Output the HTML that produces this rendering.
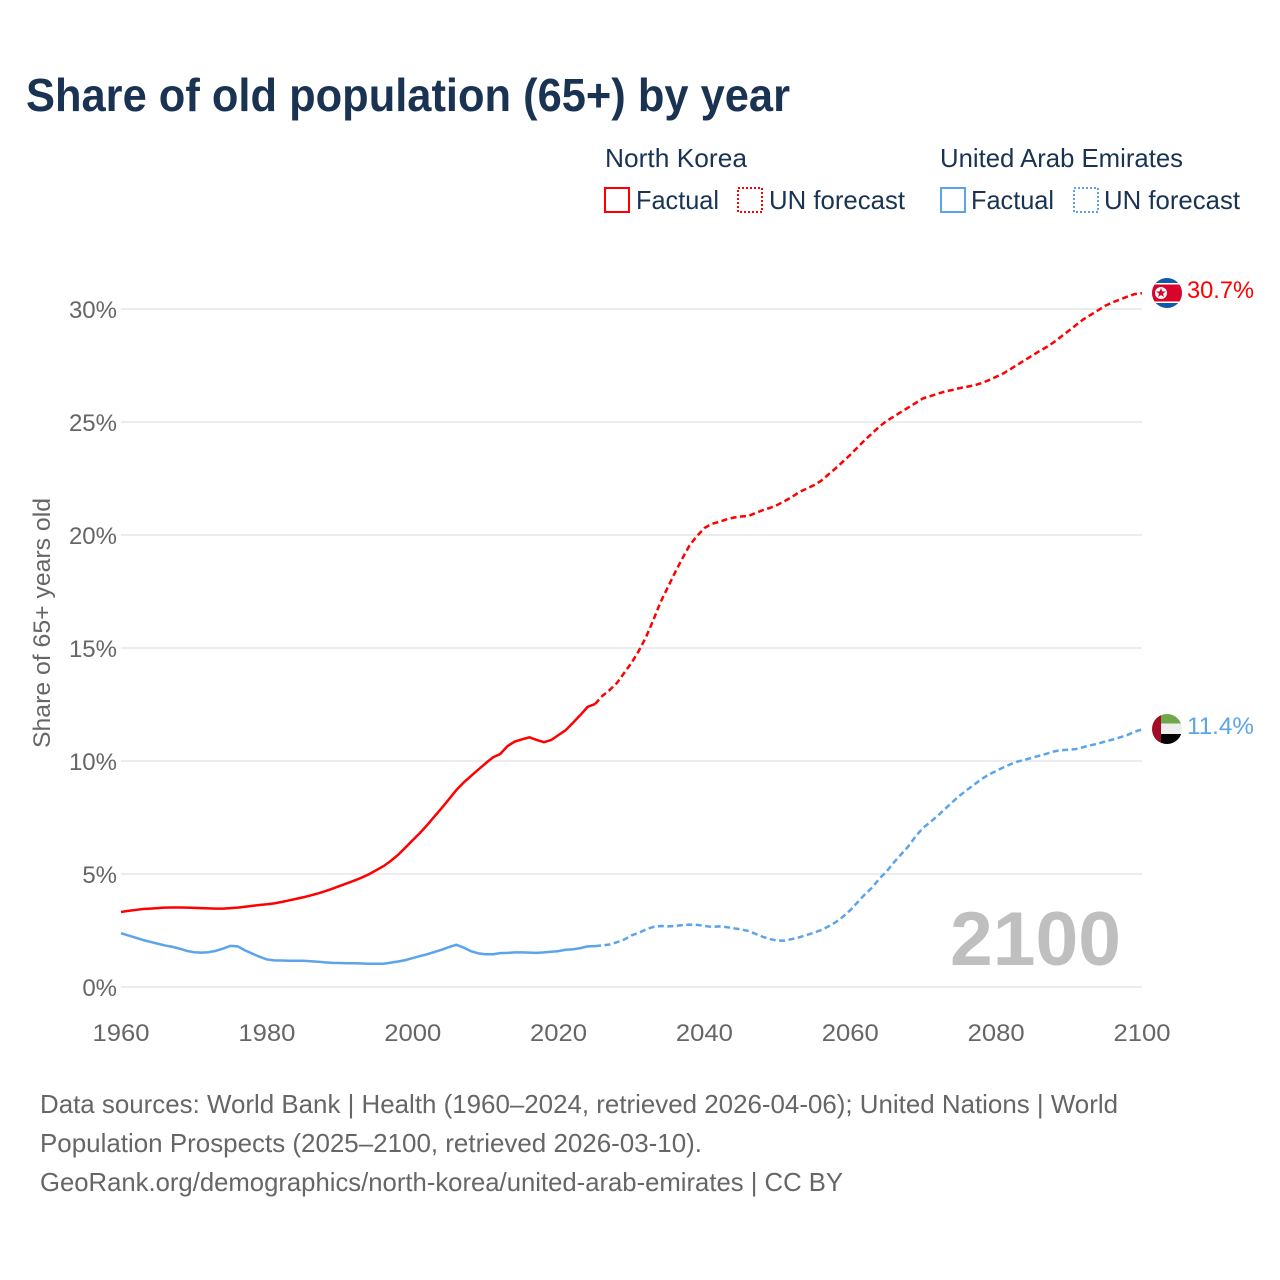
<!DOCTYPE html>
<html lang="en">
<head>
<meta charset="utf-8">
<title>Share of old population (65+) by year</title>
<style>
html,body{margin:0;padding:0;background:#fff;}
svg{display:block;font-family:"Liberation Sans",sans-serif;}
</style>
</head>
<body>
<svg id="chart" width="1280" height="1280" viewBox="0 0 1280 1280" xmlns="http://www.w3.org/2000/svg">
  <defs>
    <clipPath id="clip-nk"><circle cx="1167" cy="293" r="15"/></clipPath>
    <clipPath id="clip-ae"><circle cx="1167" cy="729" r="15"/></clipPath>
  </defs>
  <text x="26" y="111" font-size="46" font-weight="700" fill="#1a3353" textLength="764" lengthAdjust="spacingAndGlyphs">Share of old population (65+) by year</text>

  <g font-size="26" fill="#1a3353">
    <text x="605" y="167" textLength="142" lengthAdjust="spacingAndGlyphs">North Korea</text>
    <text x="940" y="167" textLength="243" lengthAdjust="spacingAndGlyphs">United Arab Emirates</text>
    <rect x="605" y="188" width="24" height="24" fill="none" stroke="#ff0000" stroke-width="2"/>
    <text x="636" y="209" textLength="83" lengthAdjust="spacingAndGlyphs">Factual</text>
    <rect x="738" y="188" width="24" height="24" fill="none" stroke="#ff0000" stroke-width="2" stroke-dasharray="2 2"/>
    <text x="769" y="209" textLength="136" lengthAdjust="spacingAndGlyphs">UN forecast</text>
    <rect x="941" y="188" width="24" height="24" fill="none" stroke="#5ba4ec" stroke-width="2"/>
    <text x="971" y="209" textLength="83" lengthAdjust="spacingAndGlyphs">Factual</text>
    <rect x="1074" y="188" width="24" height="24" fill="none" stroke="#5ba4ec" stroke-width="2" stroke-dasharray="2 2"/>
    <text x="1104" y="209" textLength="136" lengthAdjust="spacingAndGlyphs">UN forecast</text>
  </g>

  <g id="grid"></g>
  <g id="yticks" font-size="24" fill="#666666"></g>
  <g id="xticks" font-size="24" fill="#666666"></g>
  <text transform="translate(50,748) rotate(-90)" font-size="24" fill="#666666" textLength="250" lengthAdjust="spacingAndGlyphs">Share of 65+ years old</text>

  <text x="950" y="965" font-size="76" font-weight="700" fill="#bfbfbf" textLength="171" lengthAdjust="spacingAndGlyphs">2100</text>

  <g id="series"></g>

  <g clip-path="url(#clip-nk)">
    <rect x="1150" y="277" width="34" height="32" fill="#0f5aa8"/>
    <rect x="1150" y="283" width="34" height="20" fill="#ffffff"/>
    <rect x="1150" y="284.5" width="34" height="17" fill="#d90429"/>
    <circle cx="1161" cy="293" r="6" fill="#ffffff"/>
    <polygon points="1161,288 1162.3,291.4 1165.8,291.5 1163,293.7 1164,297 1161,295.1 1158,297 1159,293.7 1156.2,291.5 1159.7,291.4" fill="#d90429"/>
  </g>
  <g clip-path="url(#clip-ae)">
    <rect x="1150" y="713" width="34" height="11" fill="#6fa84a"/>
    <rect x="1150" y="723.5" width="34" height="11" fill="#eeeeee"/>
    <rect x="1150" y="734" width="34" height="11" fill="#000000"/>
    <rect x="1150" y="713" width="11" height="32" fill="#a10c26"/>
  </g>
  <text id="label-nk" x="1187" y="298" font-size="24" fill="#ff0000" textLength="67" lengthAdjust="spacingAndGlyphs"></text>
  <text id="label-ae" x="1187" y="734" font-size="24" fill="#5ba4ec" textLength="67" lengthAdjust="spacingAndGlyphs"></text>

  <g font-size="26" fill="#666666">
    <text x="40" y="1113" textLength="1078" lengthAdjust="spacingAndGlyphs">Data sources: World Bank | Health (1960–2024, retrieved 2026-04-06); United Nations | World</text>
    <text x="40" y="1152" textLength="662" lengthAdjust="spacingAndGlyphs">Population Prospects (2025–2100, retrieved 2026-03-10).</text>
    <text x="40" y="1191" textLength="803" lengthAdjust="spacingAndGlyphs">GeoRank.org/demographics/north-korea/united-arab-emirates | CC BY</text>
  </g>
</svg>
<script>
var startYear = 1960;
var lastFactualYear = 2025;
var xTickYears = [1960, 1980, 2000, 2020, 2040, 2060, 2080, 2100];
var yTickValues = [0, 5, 10, 15, 20, 25, 30];
var northKoreaValues = [
  3.32,3.37,3.41,3.45,3.47,3.49,3.51,3.52,3.52,3.51,
  3.50,3.49,3.48,3.47,3.47,3.49,3.51,3.55,3.59,3.63,
  3.66,3.70,3.76,3.83,3.90,3.97,4.05,4.14,4.24,4.35,
  4.47,4.59,4.71,4.84,4.99,5.17,5.35,5.58,5.85,6.17,
  6.50,6.82,7.17,7.55,7.93,8.32,8.72,9.05,9.34,9.62,
  9.90,10.16,10.31,10.66,10.86,10.96,11.05,10.93,10.83,10.93,
  11.15,11.37,11.70,12.04,12.40,12.52,12.88,13.14,13.45,13.90,
  14.34,14.87,15.49,16.24,17.04,17.70,18.36,18.98,19.56,19.96,
  20.31,20.49,20.58,20.69,20.77,20.82,20.84,20.97,21.10,21.20,
  21.33,21.50,21.68,21.90,22.05,22.20,22.40,22.68,22.95,23.25,
  23.55,23.88,24.20,24.50,24.80,25.05,25.25,25.45,25.65,25.85,
  26.05,26.15,26.25,26.35,26.42,26.50,26.56,26.62,26.72,26.85,
  27.00,27.15,27.35,27.55,27.75,27.95,28.15,28.33,28.55,28.80,
  29.05,29.30,29.55,29.75,29.95,30.15,30.30,30.42,30.55,30.66,
  30.70
];
var uaeValues = [
  2.38,2.28,2.18,2.08,2.00,1.92,1.84,1.78,1.70,1.60,
  1.54,1.52,1.54,1.60,1.70,1.82,1.80,1.62,1.48,1.34,
  1.22,1.18,1.17,1.16,1.16,1.16,1.14,1.12,1.09,1.07,
  1.06,1.05,1.05,1.04,1.03,1.03,1.03,1.08,1.13,1.19,
  1.28,1.37,1.45,1.55,1.65,1.77,1.87,1.74,1.58,1.49,
  1.45,1.45,1.50,1.51,1.53,1.53,1.52,1.51,1.53,1.56,
  1.59,1.65,1.67,1.72,1.80,1.81,1.84,1.88,1.98,2.10,
  2.28,2.40,2.55,2.66,2.70,2.68,2.70,2.74,2.76,2.75,
  2.70,2.66,2.68,2.65,2.60,2.55,2.48,2.35,2.22,2.12,
  2.05,2.05,2.12,2.20,2.30,2.40,2.52,2.68,2.87,3.11,
  3.40,3.75,4.10,4.40,4.80,5.12,5.52,5.88,6.24,6.68,
  7.05,7.30,7.58,7.88,8.18,8.47,8.72,8.96,9.20,9.40,
  9.56,9.72,9.86,9.98,10.06,10.15,10.24,10.33,10.43,10.48,
  10.50,10.53,10.62,10.70,10.77,10.87,10.95,11.05,11.15,11.30,
  11.40
];
var endLabelNk = "30.7%";
var endLabelUae = "11.4%";

var svgNS = "http://www.w3.org/2000/svg";
function xScale(year) { return 121 + (year - 1960) * (1142 - 121) / 140; }
function yScale(val) { return 987 - val * (987 - 309) / 30; }
function makeEl(tag, parent) {
  var el = document.createElementNS(svgNS, tag);
  parent.appendChild(el);
  return el;
}
function pointsFor(values, fromYear, toYear) {
  var pts = [];
  for (var year = fromYear; year <= toYear; year++) {
    pts.push(xScale(year).toFixed(2) + "," + yScale(values[year - startYear]).toFixed(2));
  }
  return pts.join(" ");
}

var gridGroup = document.getElementById("grid");
var yGroup = document.getElementById("yticks");
yTickValues.forEach(function (v) {
  var line = makeEl("line", gridGroup);
  
  
  line.setAttribute("x1", 121);
  line.setAttribute("x2", 1142);
  line.setAttribute("y1", yScale(v));
  line.setAttribute("y2", yScale(v));
  line.setAttribute("stroke", "#e6e6e6");
  line.setAttribute("stroke-width", "1.5");
  var t = makeEl("text", yGroup);
  
  
  t.setAttribute("x", 117);
  t.setAttribute("y", yScale(v) + 9);
  t.setAttribute("text-anchor", "end");
  t.textContent = v + "%";
});

var xGroup = document.getElementById("xticks");
xTickYears.forEach(function (yr) {
  var t = makeEl("text", xGroup);
  
  
  t.setAttribute("x", xScale(yr));
  t.setAttribute("y", 1041);
  t.setAttribute("text-anchor", "middle");
  t.setAttribute("textLength", "57");
  t.setAttribute("lengthAdjust", "spacingAndGlyphs");
  t.textContent = yr;
});

var seriesGroup = document.getElementById("series");
function drawPart(values, color, fromYear, toYear, dashed) {
  var line = makeEl("polyline", seriesGroup);
  
  
  line.setAttribute("points", pointsFor(values, fromYear, toYear));
  line.setAttribute("fill", "none");
  line.setAttribute("stroke", color);
  line.setAttribute("stroke-width", "2.5");
  line.setAttribute("stroke-linejoin", "round");
  if (dashed) { line.setAttribute("stroke-dasharray", "6 3.5"); }
}
drawPart(northKoreaValues, "#ff0000", 1960, lastFactualYear, false);
drawPart(northKoreaValues, "#ff0000", lastFactualYear, 2100, true);
drawPart(uaeValues, "#5ba4ec", 1960, lastFactualYear, false);
drawPart(uaeValues, "#5ba4ec", lastFactualYear, 2100, true);

document.getElementById("label-nk").textContent = endLabelNk;
document.getElementById("label-ae").textContent = endLabelUae;
</script>
</body>
</html>
